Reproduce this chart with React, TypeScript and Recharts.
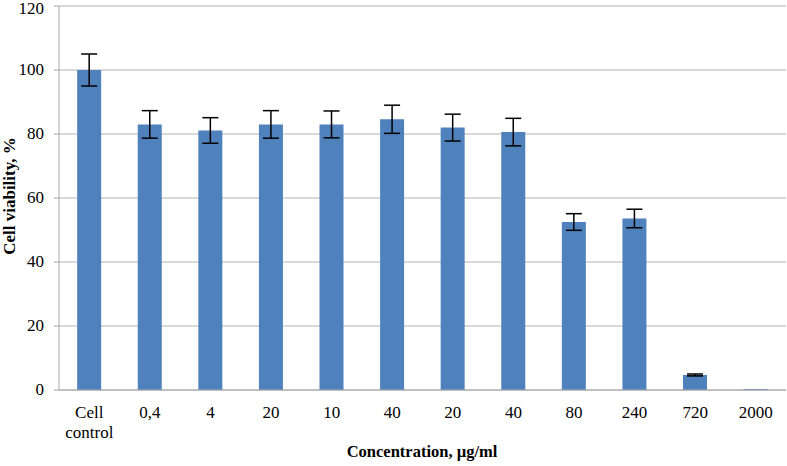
import { Bar, BarChart, CartesianGrid, ErrorBar, Label, XAxis, YAxis } from "recharts";

const CATEGORIES = ["Cell control", "0,4", "4", "20", "10", "40", "20", "40", "80", "240", "720", "2000"];
const VIABILITY = [100, 83, 81.1, 83, 83, 84.6, 82, 80.6, 52.5, 53.6, 4.7, 0.3];
const ERRORS = [5, 4.3, 4, 4.3, 4.2, 4.4, 4.2, 4.3, 2.6, 2.9, 0.3, 0];
const Y_TICKS = [0, 20, 40, 60, 80, 100, 120];

const data = CATEGORIES.map((label, i) => ({
  id: i,
  label,
  value: VIABILITY[i],
  err: ERRORS[i],
}));

const FONT = "Liberation Serif";

const renderCategoryTick = (props: any) => {
  const { x, y, payload } = props;
  const lines = CATEGORIES[payload.value].split(" ");
  return (
    <g key={`xt-${payload.value}`}>
      <text x={x} y={y} textAnchor="middle" fontFamily={FONT} fontSize={17} fill="#000">
        {lines.map((line, i) => (
          <tspan key={i} x={x} dy={20}>
            {line}
          </tspan>
        ))}
      </text>
    </g>
  );
};

const renderValueTick = (props: any) => {
  const { x, y, payload } = props;
  return (
    <g key={`yt-${payload.value}`}>
      <text x={x - 1} y={y} dy={5} textAnchor="end" fontFamily={FONT} fontSize={17} fill="#000">
        {payload.value}
      </text>
    </g>
  );
};

export default function App() {
  return (
    <div style={{ position: "absolute", left: 0, top: 0, background: "#fff", fontFamily: FONT }}>
      <BarChart
        width={787}
        height={466}
        data={data}
        margin={{ top: 6, right: 1, bottom: 0, left: 0 }}
        barCategoryGap="30%"
      >
        <CartesianGrid vertical={false} stroke="#b3b3b3" />
        <XAxis
          dataKey="id"
          type="category"
          tick={renderCategoryTick}
          tickLine={false}
          axisLine={{ stroke: "#a6a6a6" }}
          height={76}
          interval={0}
        >
          <Label
            content={() => (
              <text
                x={422}
                y={457}
                textAnchor="middle"
                fontFamily={FONT}
                fontSize={16.5}
                fontWeight="bold"
                fill="#000"
              >
                Concentration, µg/ml
              </text>
            )}
          />
        </XAxis>
        <YAxis
          domain={[0, 120]}
          ticks={Y_TICKS}
          width={59}
          tick={renderValueTick}
          tickSize={5}
          tickMargin={9}
          tickLine={{ stroke: "#a6a6a6" }}
          axisLine={{ stroke: "#a6a6a6" }}
        >
          <Label
            content={() => (
              <text
                x={15}
                y={196}
                transform="rotate(-90 15 196)"
                textAnchor="middle"
                fontFamily={FONT}
                fontSize={17}
                fontWeight="bold"
                fill="#000"
              >
                Cell viability, %
              </text>
            )}
          />
        </YAxis>
        <Bar dataKey="value" fill="#4f81bd" isAnimationActive={false}>
          <ErrorBar dataKey="err" width={8} stroke="#000" strokeWidth={1.5} />
        </Bar>
      </BarChart>
    </div>
  );
}
